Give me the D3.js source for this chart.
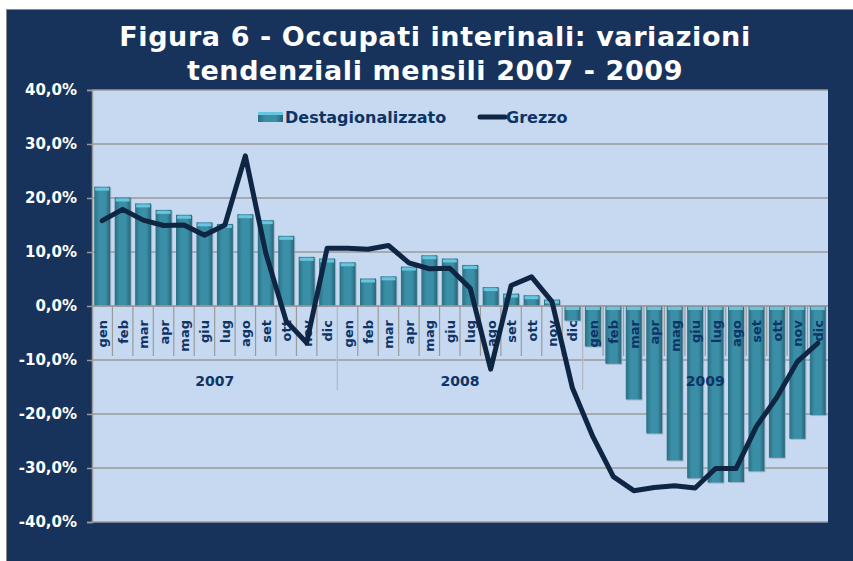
<!DOCTYPE html>
<html>
<head>
<meta charset="utf-8">
<script src="https://cdn.jsdelivr.net/npm/d3@7"></script>
<style>
  body { margin: 0; background: #fff; }
  text { font-family: "DejaVu Sans", Verdana, sans-serif; font-weight: bold; }
</style>
</head>
<body>
<script>
// data
var months = ["gen","feb","mar","apr","mag","giu","lug","ago","set","ott","nov","dic"];
var years = ["2007","2008","2009"];
var destag = [22.1, 20.1, 19.0, 17.8, 16.9, 15.5, 15.2, 17.0, 15.9, 13.0, 9.1, 8.8,
              8.1, 5.1, 5.5, 7.3, 9.4, 8.8, 7.6, 3.5, 2.3, 2.0, 1.2, -2.7,
              -7.5, -10.7, -17.3, -23.6, -28.6, -31.9, -32.7, -32.6, -30.6, -28.1, -24.6, -20.2];
var grezzo = [15.8, 17.9, 15.9, 14.9, 15.0, 13.1, 15.0, 27.8, 9.8, -2.8, -6.8, 10.7,
              10.7, 10.5, 11.2, 8.0, 6.9, 7.0, 3.3, -11.7, 3.8, 5.4, 0.8, -15.2,
              -24.2, -31.6, -34.2, -33.6, -33.3, -33.7, -30.1, -30.1, -22.3, -16.9, -10.3, -6.9];
var yTicks = [-40, -30, -20, -10, 0, 10, 20, 30, 40];
var seriesNames = ["Destagionalizzato", "Grezzo"];

var W = 853, H = 561;
var plot = {left: 92, right: 828, top: 90, bottom: 522};
var navy = "#17335b", labelCol = "#0e3466";

var svg = d3.select("body").append("svg")
    .attr("width", W)
    .attr("height", H);

var defs = svg.append("defs");
var grad = defs.append("linearGradient").attr("id", "barGrad")
    .attr("x1", 0).attr("x2", 1).attr("y1", 0).attr("y2", 0);
grad.append("stop").attr("offset", "0%").attr("stop-color", "#2b6f83");
grad.append("stop").attr("offset", "30%").attr("stop-color", "#3a8ea6");
grad.append("stop").attr("offset", "70%").attr("stop-color", "#3a8ea6");
grad.append("stop").attr("offset", "100%").attr("stop-color", "#266679");

// outer frame
svg.append("rect").attr("x", 6).attr("y", 9).attr("width", W - 6).attr("height", H - 9)
    .attr("fill", "#8a8a8a");
svg.append("rect").attr("x", 7).attr("y", 10).attr("width", W - 7).attr("height", H - 10)
    .attr("fill", navy);

// title
var title = svg.append("text").attr("text-anchor", "middle").attr("fill", "#fff")
    .style("font-size", "27px").style("letter-spacing", "0.6px");
title.append("tspan").attr("x", 435).attr("y", 46).text("Figura 6 - Occupati interinali: variazioni");
title.append("tspan").attr("x", 435).attr("y", 80).text("tendenziali mensili 2007 - 2009");

// plot area
svg.append("rect").attr("x", plot.left).attr("y", plot.top)
    .attr("width", plot.right - plot.left).attr("height", plot.bottom - plot.top)
    .attr("fill", "#c6d9f0");

var idx = d3.range(destag.length);
var x = d3.scaleBand().domain(idx).range([plot.left, plot.right])
    .paddingInner(0.22).paddingOuter(0.11);
var step = x.step();
var y = d3.scaleLinear().domain([-40, 40]).range([plot.bottom, plot.top]);

// gridlines
svg.append("g").selectAll("line").data(yTicks).enter().append("line")
    .attr("x1", plot.left).attr("x2", plot.right)
    .attr("y1", function(d) { return y(d); }).attr("y2", function(d) { return y(d); })
    .attr("stroke", "#9a9a9a").attr("stroke-width", 1.5);

// y axis
var yAxis = svg.append("g").attr("transform", "translate(" + plot.left + ",0)")
    .call(d3.axisLeft(y).tickValues(yTicks).tickSize(5).tickPadding(10)
      .tickFormat(function(d) { return d.toFixed(1).replace(".", ",") + "%"; }));
yAxis.select(".domain").attr("stroke", "#9a9a9a").attr("stroke-width", 1.5);
yAxis.selectAll(".tick line").attr("stroke", "#9a9a9a").attr("stroke-width", 1.5);
yAxis.selectAll(".tick text").attr("fill", "#fff")
    .style("font-size", "15px").style("font-family", "DejaVu Sans").style("font-weight", "bold");

// category separators
var y0 = y(0);
svg.append("g").selectAll("line").data(d3.range(1, destag.length)).enter().append("line")
    .attr("x1", function(i) { return plot.left + step * i; })
    .attr("x2", function(i) { return plot.left + step * i; })
    .attr("y1", y0)
    .attr("y2", function(i) { return i % 12 === 0 ? 390 : 356; })
    .attr("stroke", function(i) { return i % 12 === 0 ? "#b0b8c4" : "#9a9a9a"; })
    .attr("stroke-width", 1.2);

// bars
var bars = svg.append("g").selectAll("g").data(destag).enter().append("g");
bars.append("rect")
    .attr("x", function(d, i) { return x(i) + 1; })
    .attr("y", function(d) { return Math.min(y(d), y0) + 1; })
    .attr("width", x.bandwidth())
    .attr("height", function(d) { return Math.abs(y(d) - y0); })
    .attr("fill", "#8c9aab").attr("opacity", 0.6);
bars.append("rect")
    .attr("x", function(d, i) { return x(i); })
    .attr("y", function(d) { return Math.min(y(d), y0); })
    .attr("width", x.bandwidth())
    .attr("height", function(d) { return Math.abs(y(d) - y0); })
    .attr("fill", "url(#barGrad)");
bars.append("rect")
    .attr("x", function(d, i) { return x(i) + 1; })
    .attr("y", function(d) { return Math.min(y(d), y0) + 1; })
    .attr("width", x.bandwidth() - 2)
    .attr("height", 3)
    .attr("fill", "#67c6dd");

// x axis line
svg.append("line").attr("x1", plot.left).attr("x2", plot.right)
    .attr("y1", y0).attr("y2", y0).attr("stroke", "#9a9a9a").attr("stroke-width", 1.5);

// month labels
svg.append("g").selectAll("text").data(idx).enter().append("text")
    .attr("transform", function(i) {
      return "translate(" + (x(i) + x.bandwidth() / 2 + 5) + "," + (y0 + 14) + ") rotate(-90)";
    })
    .attr("text-anchor", "end")
    .attr("fill", labelCol)
    .style("font-size", "13px")
    .text(function(i) { return months[i % 12]; });

// year labels
svg.append("g").selectAll("text").data(years).enter().append("text")
    .attr("x", function(d, k) { return plot.left + step * (k * 12 + 6); })
    .attr("y", 386)
    .attr("text-anchor", "middle")
    .attr("fill", labelCol)
    .style("font-size", "14px")
    .text(function(d) { return d; });

// line
var line = d3.line()
    .x(function(d, i) { return x(i) + x.bandwidth() / 2; })
    .y(function(d) { return y(d); });
svg.append("path").datum(grezzo).attr("d", line)
    .attr("fill", "none").attr("stroke", "#0f2544").attr("stroke-width", 5)
    .attr("stroke-linejoin", "round").attr("stroke-linecap", "round");

// legend
var lg = svg.append("g");
lg.append("rect").attr("x", 258).attr("y", 112).attr("width", 25).attr("height", 10).attr("fill", "url(#barGrad)");
lg.append("rect").attr("x", 258).attr("y", 112).attr("width", 25).attr("height", 3).attr("fill", "#67c6dd");
lg.append("text").attr("x", 285).attr("y", 123).attr("fill", labelCol).style("font-size", "16px").text(seriesNames[0]);
lg.append("line").attr("x1", 480).attr("x2", 505).attr("y1", 117).attr("y2", 117)
    .attr("stroke", "#0f2544").attr("stroke-width", 5).attr("stroke-linecap", "round");
lg.append("text").attr("x", 506).attr("y", 123).attr("fill", labelCol).style("font-size", "16px").text(seriesNames[1]);
</script>
</body>
</html>
